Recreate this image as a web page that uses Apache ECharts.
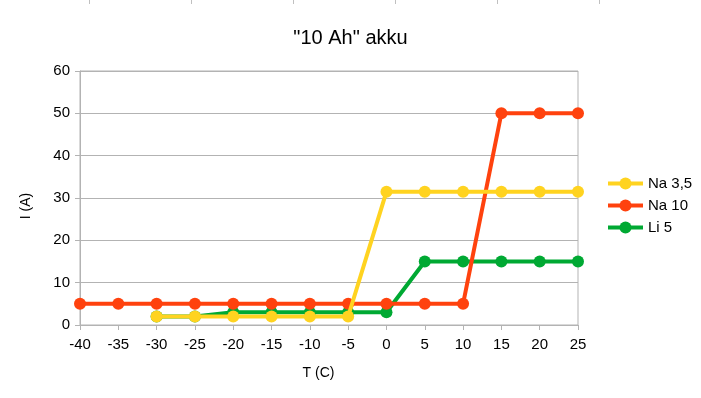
<!DOCTYPE html>
<html>
<head>
<meta charset="utf-8">
<script src="https://cdn.jsdelivr.net/npm/echarts@6/dist/echarts.min.js"></script>
<style>
    html, body { margin: 0; padding: 0; background: #fff; }
    #chart { width: 701px; height: 398px; }
</style>
</head>
<body>
<div id="chart"></div>
<script>
// temperatures (C)
const temps = ['-40', '-35', '-30', '-25', '-20', '-15', '-10', '-5', '0', '5', '10', '15', '20', '25'];
// current (A)
const na35 = ['-', '-', 2, 2, 2, 2, 2, 2, 31.5, 31.5, 31.5, 31.5, 31.5, 31.5];
const na10 = [5, 5, 5, 5, 5, 5, 5, 5, 5, 5, 5, 50, 50, 50];
const li5 = ['-', '-', 2, 2, 3, 3, 3, 3, 3, 15, 15, 15, 15, 15];
const yTicks = { min: 0, max: 60, step: 10 };

const font = 'Liberation Sans';
const grey = '#b3b3b3';

const myChart = echarts.init(document.getElementById('chart'));

function lineSeries(name, data, color, z) {
    return {
        name: name,
        type: 'line',
        data: data,
        z: z,
        symbol: 'circle',
        symbolSize: 12,
        itemStyle: { color: color },
        lineStyle: { color: color, width: 4 },
        emphasis: { disabled: true },
    };
}

// the little cell borders peeking in at the top
const topMarks = [89, 191, 293, 395, 497, 599].map(x => ({
    type: 'line',
    shape: { x1: x + 0.5, y1: 0, x2: x + 0.5, y2: 4 },
    style: { stroke: '#c0c0c0', lineWidth: 1 },
}));

const option = {
    backgroundColor: '#fff',
    animation: false,
    textStyle: { fontFamily: font },
    title: {
        text: '"10 Ah" akku',
        left: 'center',
        top: 23,
        textStyle: { fontFamily: font, fontSize: 20, fontWeight: 'normal', color: '#000' },
    },
    grid: {
        left: 80,
        right: 123,
        top: 71,
        bottom: 73,
        show: true,
        borderColor: grey,
        borderWidth: 1,
    },
    legend: {
        orient: 'vertical',
        left: 606,
        top: 176,
        padding: 0,
        itemWidth: 35,
        itemHeight: 15,
        itemGap: 7,
        lineStyle: { width: 4 },
        textStyle: { fontFamily: font, fontSize: 15, color: '#000' },
        data: ['Na 3,5', 'Na 10', 'Li 5'],
    },
    xAxis: {
        type: 'category',
        data: temps,
        boundaryGap: false,
        name: 'T (C)',
        nameLocation: 'middle',
        nameGap: 41,
        nameTextStyle: { fontFamily: font, fontSize: 14, color: '#000', padding: [0, 21, 0, 0] },
        axisLine: { lineStyle: { color: grey } },
        axisTick: { show: true, alignWithLabel: true, length: 5, lineStyle: { color: grey } },
        axisLabel: { fontFamily: font, fontSize: 15, color: '#000', margin: 12, interval: 0 },
        splitLine: { show: false },
    },
    yAxis: {
        type: 'value',
        min: yTicks.min,
        max: yTicks.max,
        interval: yTicks.step,
        name: 'I (A)',
        nameLocation: 'middle',
        nameGap: 47,
        nameTextStyle: { fontFamily: font, fontSize: 14, color: '#000', padding: [0, 16, 0, 0] },
        axisLine: { show: true, lineStyle: { color: grey } },
        axisTick: { show: true, length: 5, lineStyle: { color: grey } },
        axisLabel: { fontFamily: font, fontSize: 15, color: '#000', margin: 10 },
        splitLine: { show: true, lineStyle: { color: grey } },
    },
    graphic: topMarks,
    series: [
        lineSeries('Na 3,5', na35, '#ffd320', 5),
        lineSeries('Na 10', na10, '#ff420e', 4),
        lineSeries('Li 5', li5, '#00a933', 3),
    ],
};

myChart.setOption(option);
</script>
</body>
</html>
